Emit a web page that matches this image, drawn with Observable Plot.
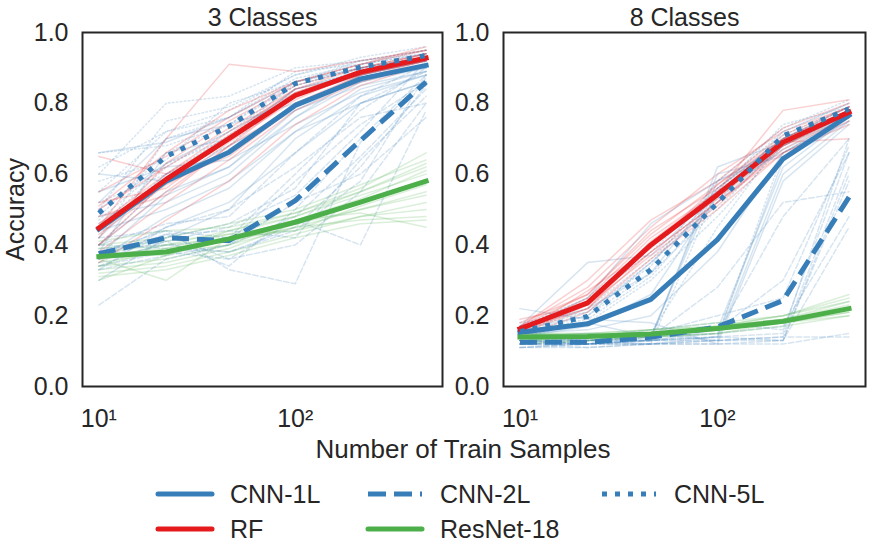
<!DOCTYPE html>
<html><head><meta charset="utf-8">
<script src="https://cdn.jsdelivr.net/npm/d3@7"></script>
<script src="https://cdn.jsdelivr.net/npm/@observablehq/plot@0.6"></script>
<style>
body{margin:0;background:#fff;}
#fig{position:relative;width:872px;height:560px;font-family:"Liberation Sans",Arial,sans-serif;color:#262626;overflow:hidden;}
.panel{position:absolute;top:0;}
#bottom{position:absolute;left:0;top:430px;}
</style></head><body><div id="fig"></div>
<script>
// ---------- data ----------
const xSamples = [10, 22, 46, 100, 215, 464];
const modelNames = ["CNN-1L", "CNN-2L", "CNN-5L", "RF", "ResNet-18"];
const panelTitles = ["3 Classes", "8 Classes"];
const xTickValues = [10, 100];
const xTickLabels = ["10¹", "10²"];
const yTickValues = [0, 0.2, 0.4, 0.6, 0.8, 1.0];
const axisLabelX = "Number of Train Samples";
const axisLabelY = "Accuracy";

// mean curves, 3 classes
const mean3_CNN1L = [0.445, 0.580, 0.662, 0.794, 0.869, 0.907];
const mean3_CNN2L = [0.375, 0.420, 0.412, 0.525, 0.695, 0.860];
const mean3_CNN5L = [0.490, 0.650, 0.735, 0.856, 0.902, 0.935];
const mean3_RF    = [0.448, 0.585, 0.700, 0.822, 0.888, 0.928];
const mean3_ResNet= [0.367, 0.380, 0.417, 0.464, 0.521, 0.580];
// mean curves, 8 classes
const mean8_CNN1L = [0.153, 0.177, 0.246, 0.415, 0.643, 0.766];
const mean8_CNN2L = [0.125, 0.125, 0.139, 0.168, 0.243, 0.535];
const mean8_CNN5L = [0.155, 0.198, 0.330, 0.518, 0.708, 0.784];
const mean8_RF    = [0.163, 0.236, 0.400, 0.542, 0.690, 0.775];
const mean8_ResNet= [0.140, 0.141, 0.148, 0.164, 0.184, 0.220];

// individual trials, 3 classes
const trials3_CNN1L = [
  [0.40,0.55,0.62,0.78,0.87,0.91],[0.50,0.63,0.72,0.82,0.88,0.92],[0.36,0.48,0.56,0.72,0.84,0.89],
  [0.66,0.69,0.76,0.86,0.90,0.93],[0.42,0.60,0.66,0.80,0.87,0.90],[0.48,0.52,0.60,0.76,0.86,0.90],
  [0.38,0.66,0.70,0.84,0.88,0.92],[0.46,0.58,0.68,0.78,0.85,0.89],[0.33,0.45,0.52,0.66,0.80,0.86],
  [0.55,0.62,0.64,0.74,0.83,0.88],[0.30,0.42,0.50,0.70,0.82,0.88],[0.52,0.70,0.74,0.80,0.86,0.91],
  [0.44,0.50,0.58,0.72,0.80,0.86],[0.60,0.58,0.70,0.84,0.89,0.93],[0.37,0.54,0.62,0.76,0.88,0.92]];
const trials3_CNN2L = [
  [0.36,0.40,0.38,0.45,0.62,0.85],[0.38,0.44,0.42,0.60,0.78,0.90],[0.34,0.38,0.36,0.40,0.55,0.80],
  [0.40,0.46,0.48,0.66,0.82,0.91],[0.37,0.41,0.34,0.50,0.70,0.88],[0.35,0.43,0.44,0.42,0.64,0.82],
  [0.39,0.40,0.41,0.58,0.74,0.86],[0.42,0.44,0.33,0.29,0.69,0.87],[0.33,0.37,0.40,0.52,0.60,0.76],
  [0.38,0.42,0.46,0.56,0.80,0.89],[0.23,0.36,0.40,0.48,0.65,0.84],[0.36,0.45,0.50,0.62,0.76,0.80],
  [0.40,0.39,0.38,0.44,0.58,0.88],[0.34,0.41,0.45,0.54,0.72,0.92],[0.37,0.43,0.36,0.47,0.40,0.78]];
const trials3_CNN5L = [
  [0.45,0.62,0.72,0.85,0.90,0.93],[0.55,0.72,0.78,0.88,0.92,0.95],[0.40,0.58,0.70,0.83,0.89,0.93],
  [0.60,0.80,0.82,0.90,0.92,0.95],[0.48,0.66,0.74,0.86,0.90,0.94],[0.52,0.60,0.68,0.84,0.89,0.92],
  [0.42,0.70,0.76,0.87,0.91,0.94],[0.58,0.64,0.80,0.86,0.92,0.94],[0.66,0.68,0.74,0.85,0.90,0.93],
  [0.50,0.75,0.79,0.88,0.93,0.96],[0.44,0.60,0.71,0.82,0.90,0.93],[0.62,0.72,0.76,0.89,0.91,0.95],
  [0.47,0.63,0.70,0.86,0.91,0.94]];
const trials3_RF = [
  [0.40,0.55,0.68,0.82,0.89,0.93],[0.50,0.62,0.73,0.84,0.90,0.94],[0.43,0.57,0.66,0.80,0.88,0.92],
  [0.55,0.65,0.76,0.86,0.91,0.95],[0.38,0.52,0.64,0.78,0.86,0.91],[0.46,0.60,0.72,0.83,0.89,0.93],
  [0.65,0.60,0.70,0.83,0.89,0.94],[0.45,0.70,0.91,0.89,0.92,0.95],[0.48,0.54,0.68,0.79,0.88,0.93],
  [0.42,0.63,0.75,0.85,0.90,0.94],[0.35,0.47,0.58,0.74,0.85,0.91],[0.44,0.59,0.71,0.84,0.88,0.92],
  [0.51,0.66,0.78,0.86,0.91,0.96],[0.40,0.58,0.65,0.79,0.87,0.92],[0.52,0.56,0.69,0.81,0.89,0.93]];
const trials3_ResNet = [
  [0.34,0.36,0.40,0.45,0.50,0.55],[0.38,0.40,0.44,0.48,0.55,0.62],[0.32,0.34,0.38,0.43,0.48,0.52],
  [0.40,0.42,0.46,0.50,0.57,0.64],[0.36,0.30,0.42,0.46,0.52,0.58],[0.35,0.38,0.40,0.47,0.49,0.45],
  [0.39,0.41,0.43,0.48,0.54,0.60],[0.30,0.37,0.42,0.44,0.51,0.57],[0.37,0.39,0.41,0.45,0.47,0.48],
  [0.41,0.44,0.45,0.49,0.56,0.66],[0.33,0.35,0.39,0.46,0.50,0.54],[0.36,0.40,0.42,0.47,0.53,0.61],
  [0.38,0.37,0.44,0.49,0.55,0.63],[0.34,0.39,0.43,0.44,0.48,0.50],[0.31,0.33,0.37,0.42,0.46,0.47]];
// individual trials, 8 classes
const trials8_CNN1L = [
  [0.15,0.16,0.20,0.38,0.66,0.77],[0.16,0.25,0.46,0.58,0.68,0.78],[0.13,0.12,0.13,0.16,0.62,0.76],
  [0.17,0.35,0.37,0.55,0.70,0.79],[0.14,0.13,0.12,0.14,0.64,0.75],[0.16,0.20,0.35,0.52,0.68,0.77],
  [0.14,0.15,0.14,0.58,0.66,0.76],[0.22,0.19,0.18,0.12,0.58,0.74],[0.15,0.14,0.13,0.62,0.69,0.78],
  [0.14,0.17,0.26,0.54,0.67,0.77],[0.13,0.13,0.15,0.13,0.60,0.75],[0.17,0.22,0.32,0.56,0.70,0.78],
  [0.15,0.18,0.14,0.60,0.65,0.76]];
const trials8_CNN2L = [
  [0.12,0.12,0.13,0.13,0.14,0.62],[0.13,0.13,0.14,0.15,0.48,0.70],[0.11,0.11,0.12,0.12,0.12,0.15],
  [0.12,0.13,0.15,0.20,0.25,0.68],[0.12,0.12,0.13,0.14,0.13,0.60],[0.14,0.13,0.14,0.28,0.52,0.55],
  [0.12,0.11,0.12,0.12,0.13,0.45],[0.13,0.14,0.16,0.18,0.16,0.66],[0.11,0.12,0.12,0.13,0.14,0.14],
  [0.12,0.12,0.13,0.14,0.15,0.70],[0.13,0.12,0.14,0.16,0.30,0.66],[0.11,0.12,0.12,0.13,0.13,0.58],
  [0.12,0.13,0.13,0.15,0.17,0.48]];
const trials8_CNN5L = [
  [0.15,0.20,0.32,0.50,0.69,0.78],[0.17,0.24,0.38,0.56,0.72,0.80],[0.14,0.18,0.30,0.48,0.68,0.77],
  [0.16,0.22,0.36,0.54,0.71,0.79],[0.13,0.12,0.15,0.45,0.70,0.78],[0.18,0.21,0.34,0.58,0.73,0.81],
  [0.14,0.13,0.13,0.14,0.66,0.76],[0.16,0.21,0.35,0.53,0.70,0.79],[0.15,0.19,0.31,0.52,0.72,0.80],
  [0.13,0.12,0.12,0.56,0.69,0.78],[0.17,0.25,0.40,0.55,0.74,0.79]];
const trials8_RF = [
  [0.15,0.22,0.40,0.53,0.68,0.77],[0.18,0.26,0.44,0.56,0.70,0.79],[0.16,0.24,0.38,0.52,0.67,0.76],
  [0.17,0.30,0.47,0.58,0.73,0.80],[0.14,0.21,0.36,0.50,0.66,0.74],[0.16,0.25,0.42,0.55,0.78,0.81],
  [0.19,0.23,0.40,0.54,0.69,0.70],[0.15,0.27,0.39,0.57,0.70,0.78],[0.17,0.28,0.45,0.60,0.72,0.79],
  [0.16,0.24,0.41,0.55,0.69,0.78],[0.15,0.23,0.37,0.51,0.68,0.76],[0.17,0.26,0.43,0.57,0.71,0.79],
  [0.16,0.22,0.38,0.52,0.66,0.75]];
const trials8_ResNet = [
  [0.13,0.13,0.14,0.16,0.18,0.21],[0.15,0.15,0.16,0.18,0.20,0.25],[0.12,0.13,0.14,0.15,0.17,0.20],
  [0.14,0.15,0.15,0.17,0.19,0.23],[0.15,0.14,0.16,0.17,0.20,0.24],[0.13,0.14,0.14,0.15,0.18,0.21],
  [0.14,0.14,0.15,0.17,0.19,0.22],[0.13,0.14,0.15,0.16,0.19,0.24],[0.15,0.15,0.16,0.17,0.20,0.26],
  [0.14,0.14,0.15,0.16,0.18,0.20]];

// ---------- styles ----------
const BLUE = "#377eb8", RED = "#e41a1c", GREEN = "#4daf4a", INK = "#262626";
const FONT = "'Liberation Sans', Arial, sans-serif";
const styleOf = {
  "CNN-1L":    {color: BLUE,  dash: null,   faint: null,      cap: "square"},
  "CNN-2L":    {color: BLUE,  dash: "17,8", faint: "5.5,2.4", cap: "butt"},
  "CNN-5L":    {color: BLUE,  dash: "5,8",  faint: "1.5,2.5", cap: "butt"},
  "RF":        {color: RED,   dash: null,   faint: null,      cap: "square"},
  "ResNet-18": {color: GREEN, dash: null,   faint: null,      cap: "square"}
};
const meanOrder = ["CNN-1L", "RF", "CNN-2L", "CNN-5L", "ResNet-18"];

const panels = [
  {title: panelTitles[0],
   means: {"CNN-1L": mean3_CNN1L, "CNN-2L": mean3_CNN2L, "CNN-5L": mean3_CNN5L, "RF": mean3_RF, "ResNet-18": mean3_ResNet},
   trials: {"CNN-1L": trials3_CNN1L, "CNN-2L": trials3_CNN2L, "CNN-5L": trials3_CNN5L, "RF": trials3_RF, "ResNet-18": trials3_ResNet},
   left: 0, width: 450, marginLeft: 82, marginRight: 8, ylabel: true},
  {title: panelTitles[1],
   means: {"CNN-1L": mean8_CNN1L, "CNN-2L": mean8_CNN2L, "CNN-5L": mean8_CNN5L, "RF": mean8_RF, "ResNet-18": mean8_ResNet},
   trials: {"CNN-1L": trials8_CNN1L, "CNN-2L": trials8_CNN2L, "CNN-5L": trials8_CNN5L, "RF": trials8_RF, "ResNet-18": trials8_ResNet},
   left: 450, width: 422, marginLeft: 53, marginRight: 7, ylabel: false}
];

const rowsOf = (vals) => vals.map((v, j) => ({x: xSamples[j], y: v}));
const trialRows = (list) => list.flatMap((vals, i) => vals.map((v, j) => ({x: xSamples[j], y: v, t: i})));

const fig = document.getElementById("fig");

panels.forEach(p => {
  const marks = [];
  for (const name of modelNames) {
    const s = styleOf[name];
    marks.push(Plot.line(trialRows(p.trials[name]), {
      x: "x", y: "y", z: "t", stroke: s.color, strokeOpacity: 0.2, strokeWidth: 1.5,
      strokeDasharray: s.faint || undefined
    }));
  }
  for (const name of meanOrder) {
    const s = styleOf[name];
    marks.push(Plot.line(rowsOf(p.means[name]), {
      x: "x", y: "y", stroke: s.color, strokeWidth: 5, strokeLinejoin: "round",
      strokeLinecap: s.cap, strokeDasharray: s.dash || undefined
    }));
  }
  marks.push(Plot.frame({stroke: INK, strokeWidth: 2}));
  marks.push(Plot.text([p.title], {text: d => d, frameAnchor: "top", textAnchor: "middle", lineAnchor: "bottom", dy: -7, fontSize: 25, fill: INK}));
  if (p.ylabel) {
    marks.push(Plot.text([axisLabelY], {text: d => d, frameAnchor: "left", textAnchor: "middle", lineAnchor: "middle", rotate: -90, dx: -67, fontSize: 25, fill: INK}));
  }
  const chart = Plot.plot({
    width: p.width, height: 440,
    marginLeft: p.marginLeft, marginRight: p.marginRight, marginTop: 32, marginBottom: 54,
    style: {fontFamily: FONT, fontSize: "25px", color: INK, background: "white", overflow: "visible"},
    x: {type: "log", domain: [Math.pow(10, 0.9167), Math.pow(10, 2.75)], ticks: xTickValues,
        tickFormat: d => xTickLabels[xTickValues.indexOf(d)] ?? "", tickSize: 0, tickPadding: 23, label: null},
    y: {domain: [0, 1], ticks: yTickValues, tickFormat: d3.format(".1f"), tickSize: 0, tickPadding: 14, label: null},
    marks
  });
  chart.classList.add("panel");
  chart.style.left = p.left + "px";
  fig.appendChild(chart);
});

// ---------- x label + legend ----------
const svg = d3.select(fig).append("svg").attr("id", "bottom").attr("width", 872).attr("height", 130)
  .style("font-family", FONT).style("overflow", "visible");
svg.append("text").attr("x", 463).attr("y", 19).attr("text-anchor", "middle").attr("dominant-baseline", "central")
  .attr("font-size", 26).attr("fill", INK).text(axisLabelX);

const legendSlots = [
  {name: "CNN-1L", x: 158, y: 64}, {name: "CNN-2L", x: 368, y: 64}, {name: "CNN-5L", x: 602, y: 64},
  {name: "RF", x: 158, y: 99}, {name: "ResNet-18", x: 368, y: 99}
];
legendSlots.forEach(item => {
  const s = styleOf[item.name];
  svg.append("line").attr("x1", item.x).attr("x2", item.x + 54).attr("y1", item.y).attr("y2", item.y)
    .attr("stroke", s.color).attr("stroke-width", 5)
    .attr("stroke-linecap", s.dash ? "butt" : "round")
    .attr("stroke-dasharray", s.dash === "17,8" ? "18,8" : s.dash);
  svg.append("text").attr("x", item.x + 72).attr("y", item.y).attr("dominant-baseline", "central")
    .attr("font-size", 25).attr("fill", INK).text(item.name);
});
</script></body></html>
